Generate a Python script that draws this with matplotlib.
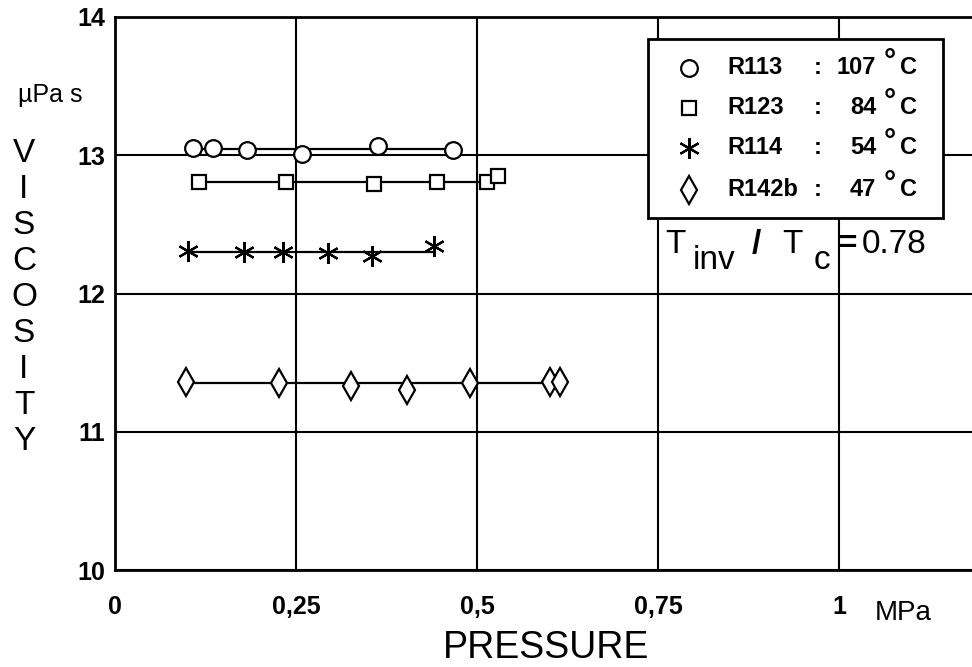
import matplotlib
matplotlib.use('Agg')
import matplotlib.pyplot as plt
from matplotlib.patches import Rectangle
from matplotlib.lines import Line2D

plt.rcParams['font.family'] = ['Liberation Sans', 'DejaVu Sans']

# pressure (MPa) / viscosity (uPa s)
p_r113 = [0.108, 0.135, 0.182, 0.258, 0.363, 0.467]
v_r113 = [13.05, 13.05, 13.04, 13.01, 13.07, 13.04]
p_r123 = [0.116, 0.236, 0.358, 0.445, 0.514, 0.529]
v_r123 = [12.81, 12.81, 12.79, 12.81, 12.81, 12.85]
p_r114 = [0.101, 0.178, 0.232, 0.294, 0.355, 0.441]
v_r114 = [12.31, 12.30, 12.30, 12.29, 12.27, 12.34]
p_r142b = [0.098, 0.227, 0.326, 0.403, 0.490, 0.601, 0.615]
v_r142b = [11.36, 11.35, 11.33, 11.30, 11.35, 11.36, 11.36]

# horizontal lines drawn through each set
fit_levels = [13.045, 12.81, 12.30, 11.35]

names = ['R113', 'R123', 'R114', 'R142b']
temps = ['107', '84', '54', '47']
xticks = [0, 0.25, 0.5, 0.75, 1]
xlabels = ['0', '0,25', '0,5', '0,75', '1']
yticks = [10, 11, 12, 13, 14]

W, H = 972, 667
fig = plt.figure(figsize=(W/100, H/100), dpi=100)
ax = fig.add_axes([115/W, 1-570/H, 857/W, 553/H])

def ftext(px, py, s, **kw):
    fig.text(px/W, 1-py/H, s, **kw)

styles = [dict(marker='o', ms=12), dict(marker='s', ms=10),
          dict(marker=(6, 2, 0), ms=15), dict(marker='d', ms=14)]
series = [(p_r113, v_r113), (p_r123, v_r123), (p_r114, v_r114), (p_r142b, v_r142b)]

for (p, v), lev, st in zip(series, fit_levels, styles):
    ax.plot([min(p), max(p)], [lev, lev], color='black', lw=1.6, zorder=3)
    ax.plot(p, v, ls='none', mfc='white', mec='black', mew=1.6, zorder=4, **st)

ax.set_xlim(0, 857/724)
ax.set_ylim(10, 14)
ax.set_xticks(xticks)
ax.set_xticklabels(xlabels)
ax.set_yticks(yticks)
ax.grid(True, color='black', lw=1.5)
ax.set_axisbelow(True)
ax.tick_params(length=0, labelsize=18)
ax.tick_params(axis='x', pad=18)
ax.tick_params(axis='y', pad=7)
for lab in ax.get_xticklabels() + ax.get_yticklabels():
    lab.set_fontweight('bold')
for s in ['left', 'top', 'bottom']:
    ax.spines[s].set_linewidth(2)
ax.spines['right'].set_visible(False)

# axis titles
ftext(50, 95, 'µPa s', fontsize=18, ha='center', va='center')
for i, ch in enumerate('VISCOSITY'):
    ftext(24, 153 + 36*i, ch, fontsize=24, ha='center', va='center')
ftext(546, 648, 'PRESSURE', fontsize=27, ha='center', va='center')
ftext(875, 613, 'MPa', fontsize=20, ha='left', va='center')

# legend box
fig.add_artist(Rectangle((648/W, 1-218/H), 295/W, 179/H, transform=fig.transFigure,
                         facecolor='white', edgecolor='black', lw=2, zorder=5))
rows = [68, 108, 148, 190]
for py, name, t, st in zip(rows, names, temps, styles):
    fig.add_artist(Line2D([689/W], [1-py/H], transform=fig.transFigure, ls='none',
                          mfc='white', mec='black', mew=1.6, zorder=6, **st))
    ftext(727, py, name, fontsize=17, fontweight='bold', va='center', zorder=6)
    ftext(818, py, ':', fontsize=17, fontweight='bold', ha='center', va='center', zorder=6)
    ftext(876, py, t, fontsize=17, fontweight='bold', ha='right', va='center', zorder=6)
    ftext(890, py-6, '°', fontsize=22, fontweight='bold', ha='center', va='center', zorder=6)
    ftext(900, py, 'C', fontsize=17, fontweight='bold', ha='left', va='center', zorder=6)

# Tinv / Tc = 0.78
ftext(665, 253, 'T', fontsize=24, va='baseline')
ftext(693, 269, 'inv', fontsize=24, va='baseline')
ftext(752, 253, '/', fontsize=24, fontweight='bold', va='baseline')
ftext(782, 253, 'T', fontsize=24, va='baseline')
ftext(814, 269, 'c', fontsize=24, va='baseline')
ftext(838, 253, '=', fontsize=24, fontweight='bold', va='baseline')
ftext(862, 253, '0.78', fontsize=24, va='baseline')

fig.savefig('out.png', dpi=100)
